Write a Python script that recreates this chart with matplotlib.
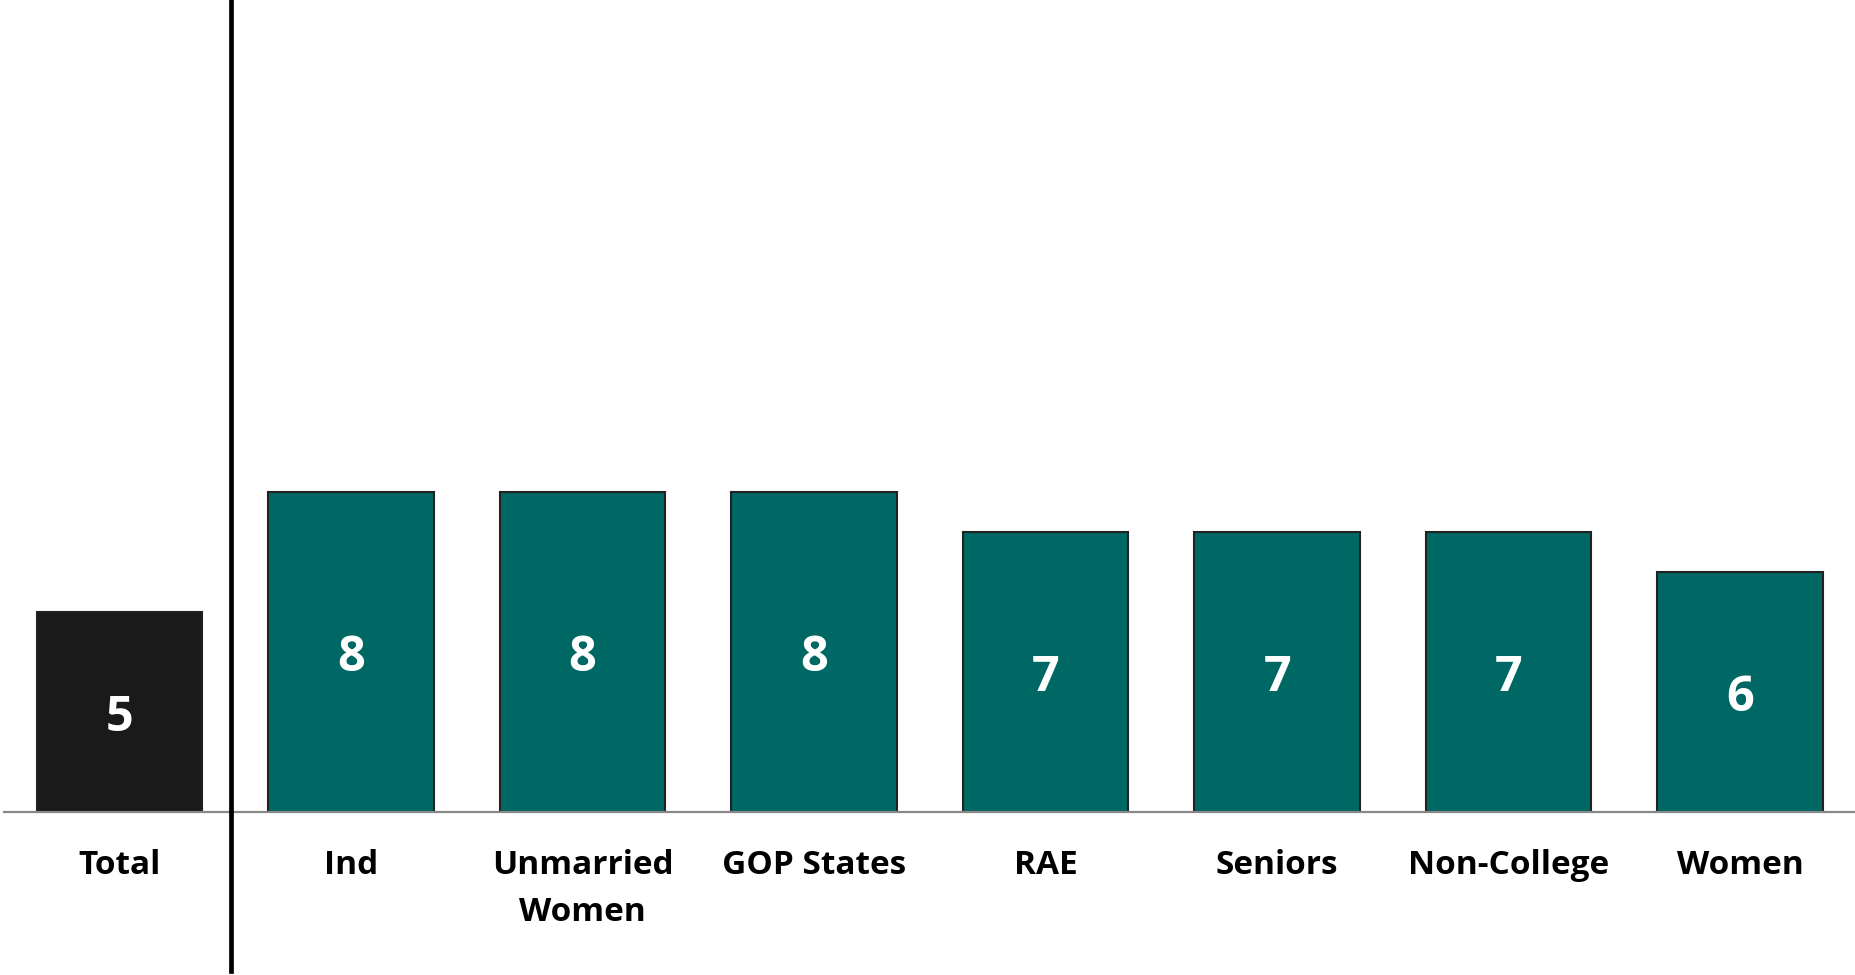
import matplotlib
matplotlib.use("Agg")
import matplotlib.pyplot as plt

categories = ["Total", "Ind", "Unmarried\nWomen", "GOP States", "RAE",
              "Seniors", "Non-College", "Women"]
values = [5, 8, 8, 8, 7, 7, 7, 6]
bar_colors = ["#1a1a1a"] + ["#006864"] * 7

plt.rcParams['font.family'] = ['Open Sans', 'DejaVu Sans']

fig = plt.figure(figsize=(18.56, 9.75), dpi=100)
ax = fig.add_axes([0.002, 0.167, 0.998, 0.833])

x = list(range(len(categories)))
bars = ax.bar(x, values, width=0.715, color=bar_colors,
              edgecolor="#222222", linewidth=1.5, zorder=2)

# value labels centred inside the bars
for b, v in zip(bars, values):
    ax.text(b.get_x() + b.get_width() / 2, v / 2 - 0.15, str(v),
            ha="center", va="center", color="white",
            fontsize=35, fontweight="bold", zorder=3)

ax.set_xlim(-0.5, 7.5)
ax.set_ylim(0, 20.3)

for s in ["top", "right", "left"]:
    ax.spines[s].set_visible(False)
ax.spines["bottom"].set_color("#888888")
ax.spines["bottom"].set_linewidth(1.6)
ax.spines["bottom"].set_zorder(4)

ax.set_yticks([])
ax.set_xticks(x)
ax.set_xticklabels(categories, fontsize=24, fontweight="bold",
                   linespacing=1.58)
ax.tick_params(axis="x", length=0, pad=26.5)

# separator between Total and the subgroups
ax.axvline(0.48, ymin=-0.195, ymax=1.0, color="black", linewidth=3.4,
           clip_on=False, zorder=5)

fig.savefig("out.png", dpi=100)
